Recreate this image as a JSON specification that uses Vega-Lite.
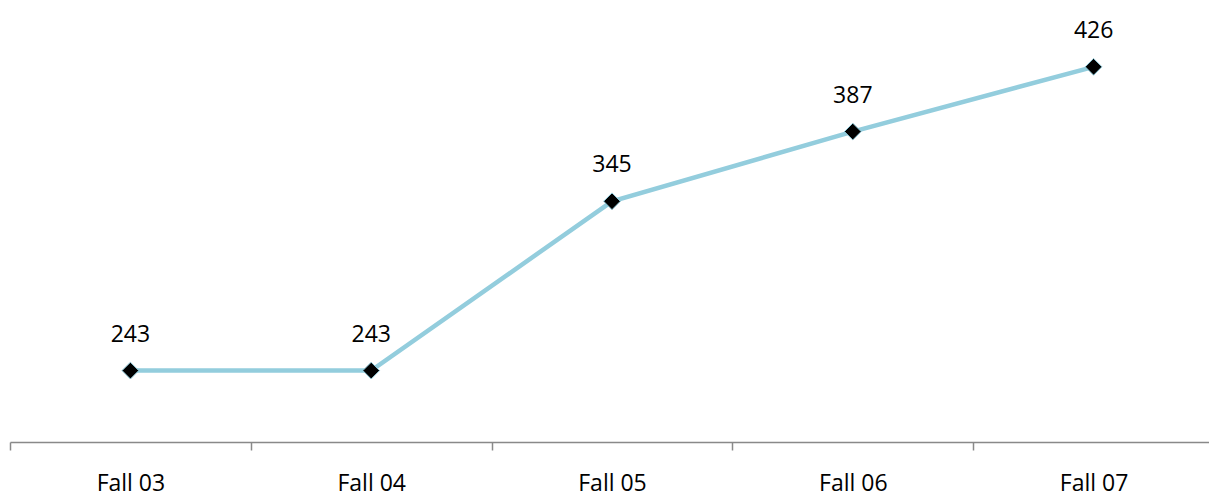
{
  "$schema": "https://vega.github.io/schema/vega-lite/v6.json",
  "autosize": "none",
  "width": 1204,
  "height": 415,
  "padding": {"left": 10, "top": 27, "right": 0, "bottom": 54},
  "background": "white",
  "config": {"view": {"stroke": null}},
  "data": {
    "values": [
      {"term": "Fall 03", "count": 243},
      {"term": "Fall 04", "count": 243},
      {"term": "Fall 05", "count": 345},
      {"term": "Fall 06", "count": 387},
      {"term": "Fall 07", "count": 426}
    ]
  },
  "encoding": {
    "x": {
      "field": "term",
      "type": "nominal",
      "sort": null,
      "scale": {"type": "band", "paddingInner": 0, "paddingOuter": 0},
      "axis": {
        "title": null,
        "labelAngle": 0,
        "labelFont": "Open Sans",
        "labelFontSize": 23,
        "labelColor": "#000000",
        "labelPadding": 22,
        "domainColor": "#898989",
        "domainWidth": 1.5,
        "tickColor": "#898989",
        "tickWidth": 1.5,
        "tickSize": 8,
        "tickBand": "extent"
      }
    },
    "y": {
      "field": "count",
      "type": "quantitative",
      "scale": {"domain": [200, 450], "nice": false, "zero": false},
      "axis": null
    }
  },
  "layer": [
    {
      "mark": {"type": "line", "color": "#93CDDD", "strokeWidth": 4.5}
    },
    {
      "mark": {"type": "point", "shape": "diamond", "filled": true, "fill": "#000000", "stroke": "#93CDDD", "strokeWidth": 1, "size": 280, "opacity": 1}
    },
    {
      "mark": {"type": "text", "font": "Open Sans", "fontSize": 23, "color": "#000000", "baseline": "alphabetic", "dy": -29},
      "encoding": {"text": {"field": "count", "type": "quantitative"}}
    }
  ]
}
